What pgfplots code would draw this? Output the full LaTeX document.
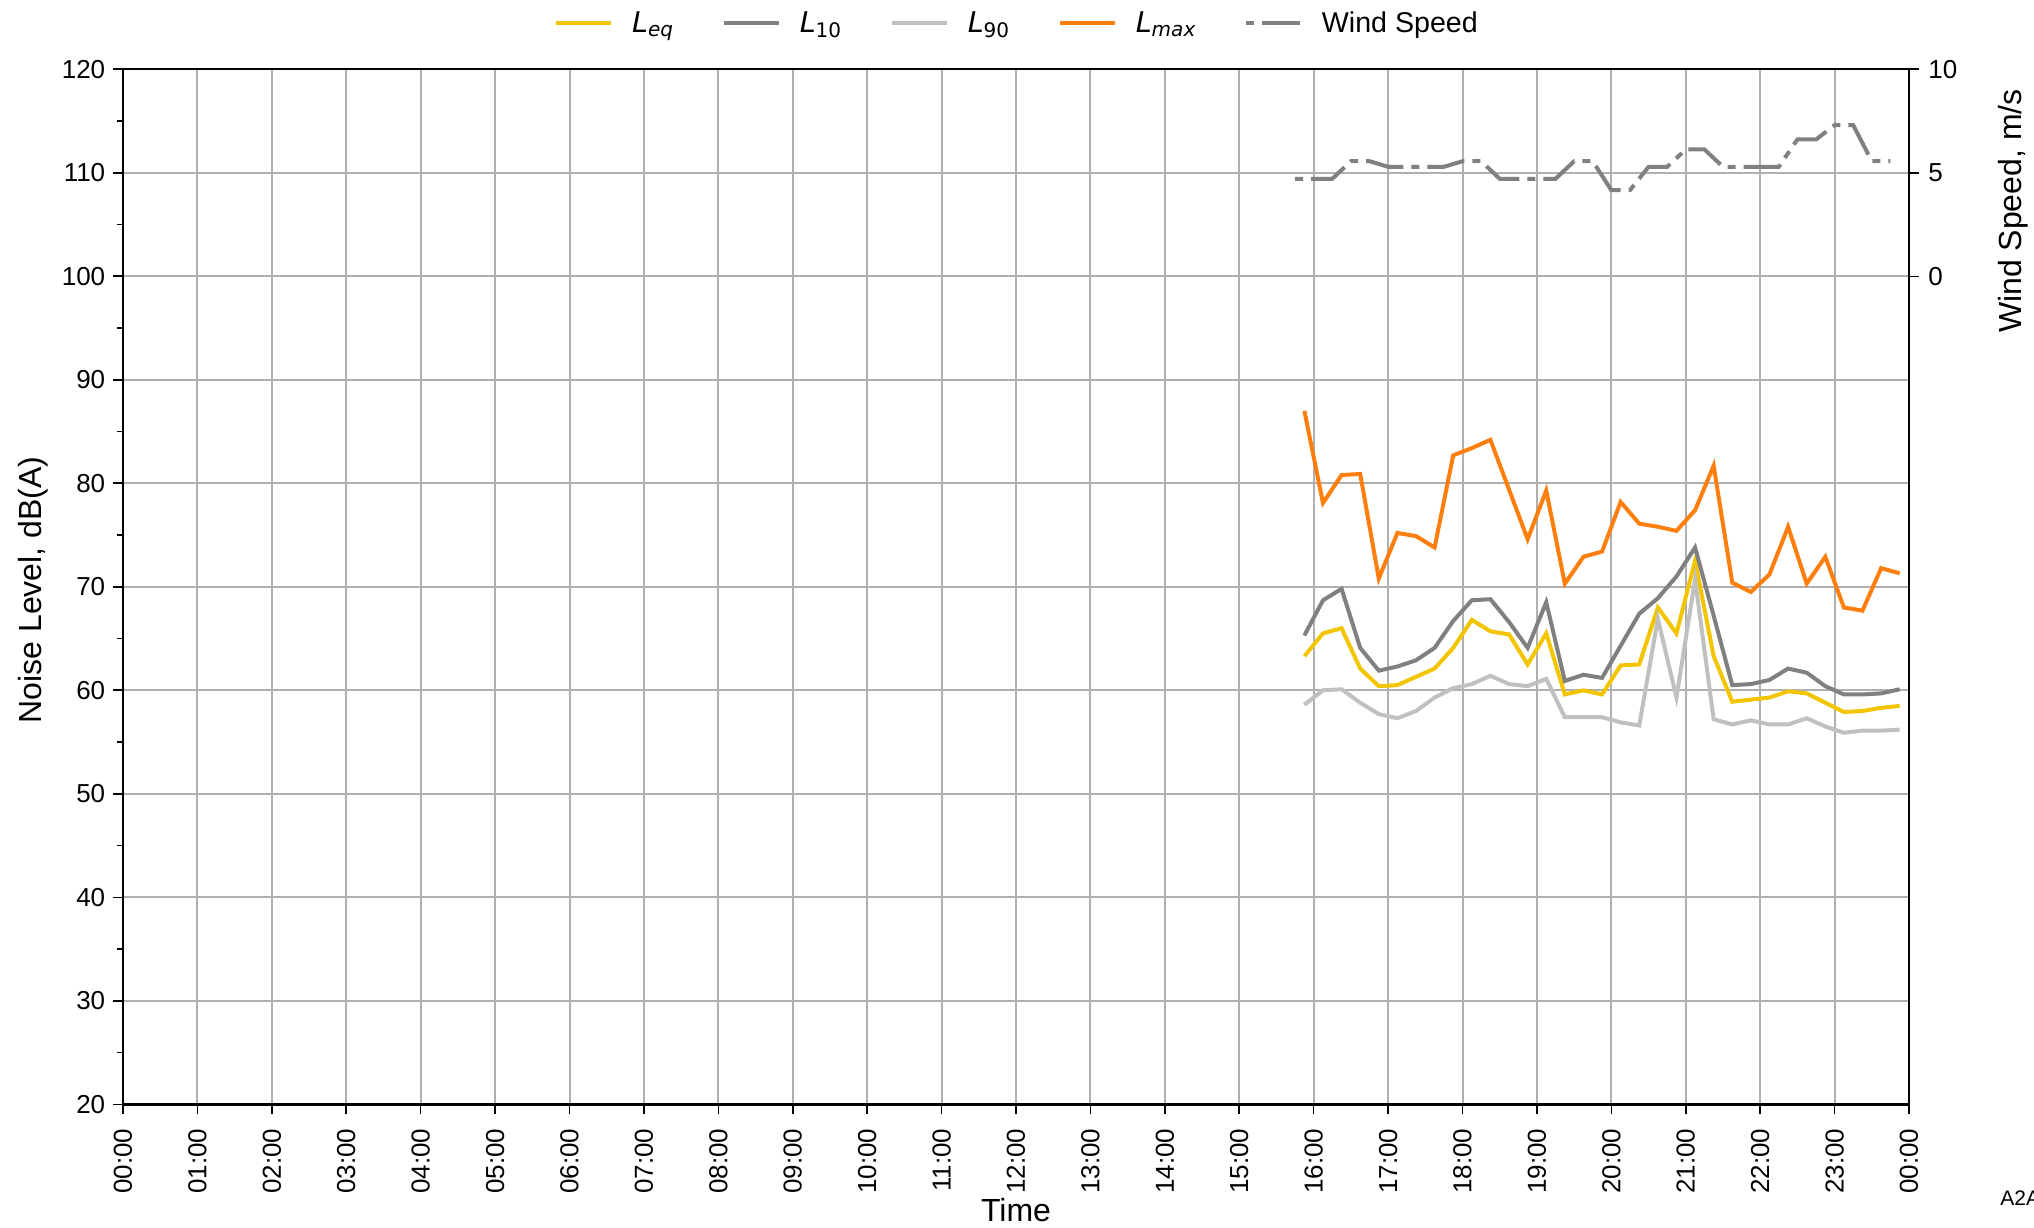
\documentclass[border=0pt]{standalone}
\usepackage{fontspec}
\setmainfont{Liberation Sans}
\newfontfamily\dejavu{DejaVu Sans}
\usepackage{pgfplots}
\usepackage{pgfplotstable}
\pgfplotsset{compat=1.18}
\definecolor{cLeq}{HTML}{F2C500}
\definecolor{cLten}{HTML}{808080}
\definecolor{cLninety}{HTML}{C0C0C0}
\definecolor{cLmax}{HTML}{FF7F0E}
\definecolor{cWind}{HTML}{808080}
\definecolor{cGrid}{HTML}{B0B0B0}

\pgfplotstableread{
t Leq L10 L90 Lmax
15.875 63.3 65.3 58.6 87.0
16.125 65.5 68.7 60.0 78.1
16.375 66.0 69.8 60.1 80.8
16.625 62.1 64.1 58.8 80.9
16.875 60.4 61.9 57.7 70.8
17.125 60.5 62.3 57.3 75.2
17.375 61.3 62.9 58.0 74.9
17.625 62.1 64.1 59.3 73.8
17.875 64.1 66.7 60.2 82.7
18.125 66.8 68.7 60.6 83.4
18.375 65.7 68.8 61.4 84.2
18.625 65.4 66.6 60.6 79.4
18.875 62.5 64.1 60.4 74.6
19.125 65.5 68.5 61.1 79.3
19.375 59.6 60.9 57.4 70.3
19.625 60.0 61.5 57.4 72.9
19.875 59.6 61.2 57.4 73.4
20.125 62.4 64.3 56.9 78.2
20.375 62.5 67.4 56.6 76.1
20.625 68.0 68.9 66.9 75.8
20.875 65.5 71.0 59.3 75.4
21.125 72.5 73.8 70.7 77.4
21.375 63.3 67.2 57.2 81.7
21.625 58.9 60.5 56.7 70.4
21.875 59.1 60.6 57.1 69.5
22.125 59.3 61.0 56.7 71.2
22.375 59.9 62.1 56.7 75.8
22.625 59.7 61.7 57.3 70.3
22.875 58.8 60.4 56.5 72.9
23.125 57.9 59.6 55.9 68.0
23.375 58.0 59.6 56.1 67.7
23.625 58.3 59.7 56.1 71.8
23.875 58.5 60.1 56.2 71.3
}\noisedata

\pgfplotstableread{
t ws
15.75 4.71
16.00 4.71
16.25 4.71
16.50 5.56
16.75 5.56
17.00 5.29
17.25 5.29
17.50 5.29
17.75 5.29
18.00 5.56
18.25 5.56
18.50 4.71
18.75 4.71
19.00 4.71
19.25 4.71
19.50 5.56
19.75 5.56
20.00 4.16
20.25 4.16
20.50 5.29
20.75 5.29
21.00 6.13
21.25 6.13
21.50 5.29
21.75 5.29
22.00 5.29
22.25 5.29
22.50 6.61
22.75 6.61
23.00 7.30
23.25 7.30
23.50 5.56
23.75 5.56
}\winddata

\begin{document}
\begin{tikzpicture}
\path[use as bounding box] (0,0) rectangle (1017pt,613.5pt);
\pgfplotsset{
  common/.style={
    at={(61.5pt,61.35pt)}, anchor=south west,
    scale only axis, width=893pt, height=517.5pt,
    xmin=0, xmax=24,
    tick align=outside,
    major tick length=5pt, minor tick length=3pt,
    every tick/.style={black, line width=0.8pt},
    axis line style={line width=1.2pt},
    /pgf/number format/assume math mode=true,
    yticklabel style={font=\fontsize{13}{15}\selectfont, inner sep=0pt},
    label style={font=\fontsize{16}{19}\selectfont},
  }
}
\begin{axis}[
  common,
  ymin=20, ymax=120,
  xtick={0,1,...,24},
  xticklabels={00:00,01:00,02:00,03:00,04:00,05:00,06:00,07:00,08:00,09:00,10:00,11:00,12:00,13:00,14:00,15:00,16:00,17:00,18:00,19:00,20:00,21:00,22:00,23:00,00:00},
  xticklabel style={rotate=90, anchor=east, font=\fontsize{13}{15}\selectfont, inner sep=0pt},
  xticklabel shift=7pt,
  ytick={20,30,...,120},
  minor ytick={25,35,...,115},
  yticklabel shift=3.7pt,
  xtick pos=bottom, ytick pos=left,
  grid=major,
  major grid style={cGrid, line width=1pt},
  xlabel={Time},
  ylabel={Noise Level, dB(A)},
  xlabel style={at={(rel axis cs:0.5,-0.102)}, anchor=center},
  ylabel style={at={(rel axis cs:-0.050,0.497)}, anchor=center},
  legend columns=5,
  legend image code/.code={\draw[#1] (0pt,0pt) -- (27.5pt,0pt);},
  legend style={draw=none, fill=none, at={(0.5,1)}, anchor=center, yshift=23pt,
    font=\fontsize{14.3}{17}\selectfont,
    nodes={inner xsep=0pt, inner ysep=1pt},
    /tikz/every odd column/.append style={column sep=9.5pt},
    /tikz/every even column/.append style={column sep=23.8pt}},
]
\addplot[cLeq, line width=2pt] table[x=t, y=Leq] {\noisedata};
\addlegendentry{{\dejavu\itshape L}\textsubscript{\dejavu\itshape eq}}
\addplot[cLten, line width=2pt] table[x=t, y=L10] {\noisedata};
\addlegendentry{{\dejavu\itshape L}\textsubscript{\dejavu 10}}
\addplot[cLninety, line width=2pt] table[x=t, y=L90] {\noisedata};
\addlegendentry{{\dejavu\itshape L}\textsubscript{\dejavu 90}}
\addplot[cLmax, line width=2pt] table[x=t, y=Lmax] {\noisedata};
\addlegendentry{{\dejavu\itshape L}\textsubscript{\dejavu\itshape max}}
\addlegendimage{cWind, line width=2pt, dash pattern=on 4pt off 4pt on 19pt off 4pt}
\addlegendentry{Wind Speed}
\end{axis}
\begin{axis}[
  common,
  ymin=-40, ymax=10,
  axis x line=none, axis y line*=right,
  ytick={0,5,10},
  yticklabel shift=4.5pt,
  ylabel={Wind Speed, m/s},
  ylabel style={at={(rel axis cs:1.0586,0.863)}, anchor=center},
]
\addplot[cWind, line width=2pt, dash pattern=on 4pt off 4pt on 19pt off 4pt] table[x=t, y=ws] {\winddata};
\end{axis}
\node[anchor=base west, font=\fontsize{10.5}{12}\selectfont, inner sep=0pt] at (1000pt,11pt) {A2A};
\end{tikzpicture}
\end{document}
